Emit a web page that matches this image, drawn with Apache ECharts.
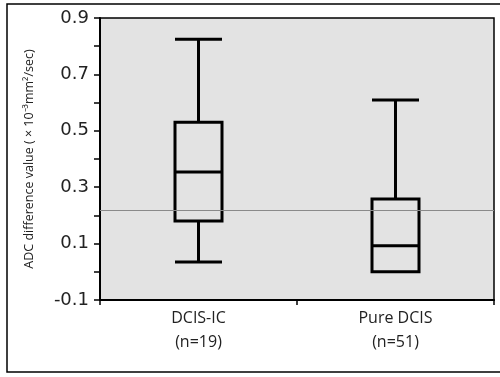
<!DOCTYPE html>
<html>
<head>
<meta charset="utf-8">
<script src="https://cdn.jsdelivr.net/npm/echarts@6/dist/echarts.min.js"></script>
<style>
  html, body { margin: 0; padding: 0; background: #fff; }
  #chart { width: 500px; height: 377px; }
</style>
</head>
<body>
<div id="chart"></div>
<script>
// 分组
var groups = ["DCIS-IC\n(n=19)", "Pure DCIS\n(n=51)"];
// [min, Q1, median, Q3, max]
var boxDCISIC = [0.035, 0.18, 0.354, 0.53, 0.825];
var boxPureDCIS = [0.0, 0.0, 0.092, 0.258, 0.609];
// cut-off
var cutOff = [0.223];
var yLabels = [-0.1, 0.1, 0.3, 0.5, 0.7, 0.9];

var chart = echarts.init(document.getElementById("chart"));
var option = {
  animation: false,
  graphic: [
    {
      type: "rect",
      shape: { x: 7, y: 4, width: 495, height: 368 },
      style: { fill: "none", stroke: "#000", lineWidth: 1.5 },
      silent: true,
    },
  ],
  grid: {
    left: 100,
    right: 6,
    top: 18,
    bottom: 77,
    show: true,
    backgroundColor: "#e3e3e3",
    borderColor: "#000",
    borderWidth: 1.5,
  },
  xAxis: {
    type: "category",
    data: groups,
    boundaryGap: true,
    axisLine: { show: true, onZero: false, lineStyle: { color: "#000", width: 2 } },
    axisTick: { show: true, length: 5, lineStyle: { color: "#000", width: 1.5 } },
    axisLabel: {
      color: "#222",
      fontFamily: "Open Sans",
      fontSize: 16,
      lineHeight: 24,
      margin: 6,
    },
    splitLine: { show: false },
  },
  yAxis: {
    type: "value",
    min: -0.1,
    max: 0.9,
    interval: 0.1,
    name: "ADC difference value ( × 10⁻³mm²/sec)",
    nameLocation: "middle",
    nameGap: 64,
    nameTextStyle: { color: "#222", fontFamily: "Open Sans", fontSize: 12.5 },
    axisLine: { show: true, onZero: false, lineStyle: { color: "#000", width: 2 } },
    axisTick: { show: true, length: 6, lineStyle: { color: "#000", width: 1.5 } },
    axisLabel: {
      color: "#222",
      fontFamily: "DejaVu Sans",
      fontSize: 18,
      margin: 11,
      formatter: function (v) {
        for (var i = 0; i < yLabels.length; i++) {
          if (Math.abs(v - yLabels[i]) < 1e-6) return yLabels[i].toFixed(1);
        }
        return "";
      },
    },
    splitLine: { show: false },
  },
  series: [
    {
      type: "boxplot",
      boxWidth: [47, 47],
      itemStyle: { color: "#e3e3e3", borderColor: "#000", borderWidth: 3 },
      data: [boxDCISIC, boxPureDCIS],
      markLine: {
        silent: true,
        symbol: "none",
        label: { show: false },
        lineStyle: { color: "#8a8a8a", width: 1.2, type: "solid" },
        data: [{ yAxis: cutOff[0] }],
      },
    },
  ],
};
chart.setOption(option);
</script>
</body>
</html>
